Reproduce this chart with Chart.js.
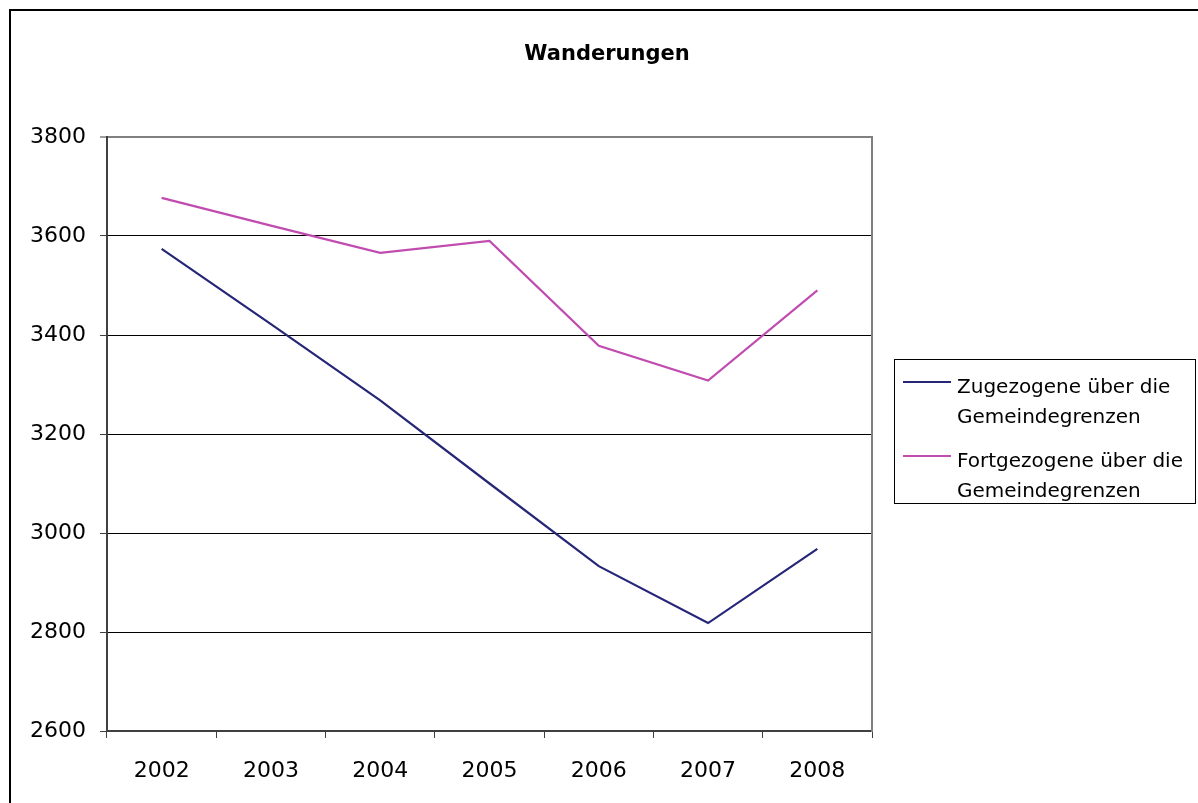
<!DOCTYPE html>
<html>
<head>
<meta charset="utf-8">
<script src="https://cdn.jsdelivr.net/npm/chart.js@4/dist/chart.umd.min.js"></script>
<style>
  html, body { margin: 0; padding: 0; background: #fff; overflow: hidden; }
  #wrap { position: relative; width: 1198px; height: 803px; overflow: hidden; }
  #frame { position: absolute; left: 9px; top: 9px; width: 1300px; height: 900px; border: 2px solid #000; box-sizing: border-box; }
  #chart { position: absolute; left: 0; top: 0; }
  #legend { position: absolute; left: 894px; top: 359px; width: 302px; height: 145px; border: 1px solid #000; box-sizing: border-box; background: #fff; font-family: "DejaVu Sans", sans-serif; font-size: 20px; line-height: 30px; color: #000; }
  .item { position: absolute; left: 0; }
  .sample { position: absolute; left: 8px; width: 48px; height: 2px; }
  .text { position: absolute; left: 62px; width: 228px; }
</style>
</head>
<body>
<div id="wrap">
  <div id="frame"></div>
  <canvas id="chart" width="1198" height="803"></canvas>
  <div id="legend"></div>
</div>
<script>
const years = ['2002', '2003', '2004', '2005', '2006', '2007', '2008'];
const zugezogene = [3574, 3422, 3268, 3100, 2933, 2818, 2968];
const fortgezogene = [3677, 3621, 3566, 3590, 3378, 3308, 3490];
const seriesNames = ['Zugezogene über die Gemeindegrenzen', 'Fortgezogene über die Gemeindegrenzen'];
const seriesColors = ['#262678', '#C04CB0'];
const chartTitle = 'Wanderungen';

const FONT = '"DejaVu Sans", sans-serif';

const chart = new Chart(document.getElementById('chart'), {
  type: 'line',
  data: {
    labels: years,
    datasets: [
      { label: seriesNames[0], data: zugezogene, borderColor: seriesColors[0], backgroundColor: seriesColors[0], borderWidth: 2.2, pointRadius: 0, tension: 0, fill: false },
      { label: seriesNames[1], data: fortgezogene, borderColor: seriesColors[1], backgroundColor: seriesColors[1], borderWidth: 2.2, pointRadius: 0, tension: 0, fill: false }
    ]
  },
  options: {
    responsive: false,
    animation: false,
    devicePixelRatio: 1,
    layout: { padding: { left: 16, right: 0, top: 0, bottom: 0 } },
    plugins: {
      legend: { display: false },
      tooltip: { enabled: false },
      title: {
        display: true,
        text: chartTitle,
        color: '#000',
        font: { family: FONT, size: 21, weight: 'bold' },
        padding: { top: 42, bottom: 69.8 }
      }
    },
    scales: {
      x: {
        type: 'category',
        offset: true,
        grid: { display: true, drawOnChartArea: false, offset: true, tickLength: 7, tickColor: '#404040', tickWidth: 1 },
        border: { display: true, color: '#404040', width: 2 },
        ticks: { color: '#000', font: { family: FONT, size: 22 }, padding: 20, maxRotation: 0, autoSkip: false },
        afterFit: s => { s.height = 72; }
      },
      y: {
        type: 'linear',
        position: 'left',
        min: 2600,
        max: 3800,
        grid: {
          color: c => (c.tick && c.tick.value === 3800) ? '#808080' : '#000',
          lineWidth: c => (c.tick && c.tick.value === 3800) ? 2 : 1,
          tickLength: 7,
          tickColor: '#404040',
          tickWidth: 1
        },
        border: { display: true, color: '#404040', width: 2 },
        ticks: { stepSize: 200, color: '#000', font: { family: FONT, size: 22 }, padding: 14, callback: v => String(v) },
        afterFit: s => { s.width = 91; }
      },
      yRight: {
        type: 'linear',
        position: 'right',
        display: true,
        grid: { display: false, drawOnChartArea: false, drawTicks: false },
        border: { display: true, color: '#808080', width: 2 },
        ticks: { display: false },
        afterFit: s => { s.width = 326; }
      }
    }
  }
});

// HTML legend built from the chart's datasets
const legendEl = document.getElementById('legend');
const itemTops = [11, 85];
chart.data.datasets.forEach((ds, i) => {
  const item = document.createElement('div');
  item.className = 'item';
  item.style.top = itemTops[i] + 'px';
  const sample = document.createElement('div');
  sample.className = 'sample';
  sample.style.top = '10px';
  sample.style.background = ds.borderColor;
  const text = document.createElement('div');
  text.className = 'text';
  text.textContent = ds.label;
  item.appendChild(sample);
  item.appendChild(text);
  legendEl.appendChild(item);
});
</script>
</body>
</html>
